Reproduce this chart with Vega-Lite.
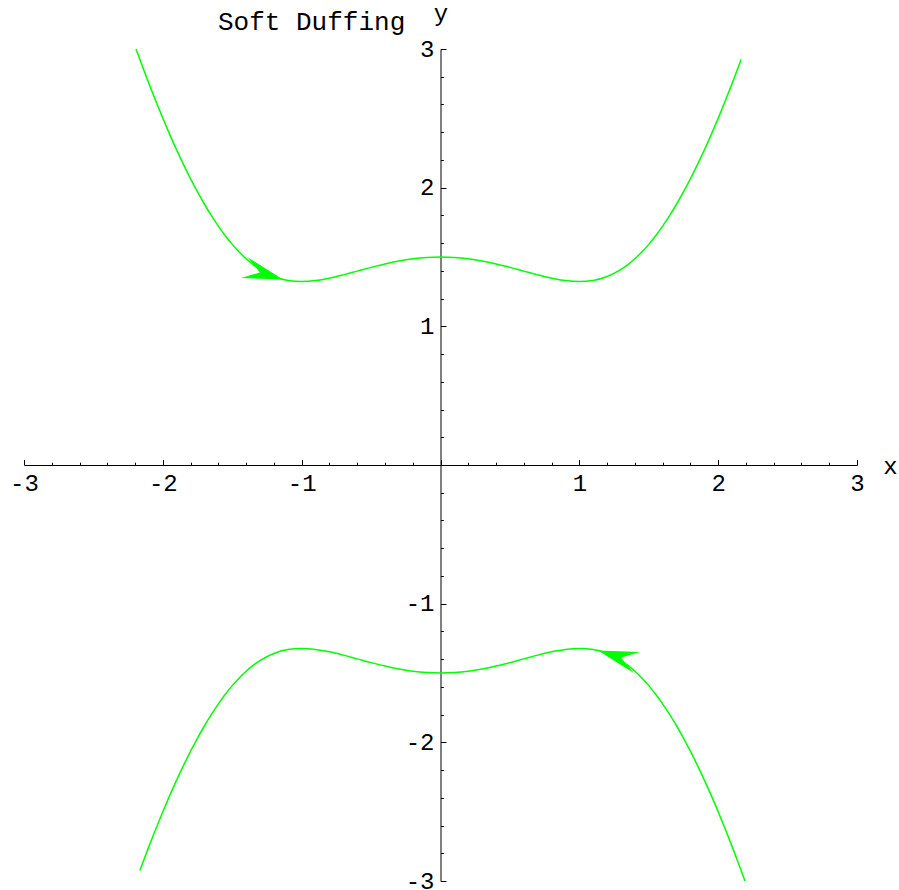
{
  "$schema": "https://vega.github.io/schema/vega-lite/v6.json",
  "width": 833,
  "height": 832,
  "autosize": "none",
  "padding": {"left": 24, "top": 49, "right": 42, "bottom": 9},
  "background": "white",
  "title": {
    "text": "Soft Duffing",
    "anchor": "start",
    "frame": "group",
    "dx": 194,
    "dy": 74,
    "offset": 19,
    "baseline": "alphabetic",
    "font": "Liberation Mono, Courier New, DejaVu Sans Mono, monospace",
    "fontSize": 26,
    "fontWeight": "normal",
    "color": "black"
  },
  "config": {
    "view": {"stroke": null},
    "font": "Liberation Mono, Courier New, DejaVu Sans Mono, monospace",
    "axis": {
      "grid": false,
      "domainColor": "black",
      "domainWidth": 1,
      "tickColor": "black",
      "tickWidth": 1,
      "labelColor": "black",
      "titleColor": "black"
    }
  },
  "datasets": {
    "orbit": [
      {"branch": "upper", "x": -2.193, "y": 3.0},
      {"branch": "upper", "x": -2.15, "y": 2.8829},
      {"branch": "upper", "x": -2.1, "y": 2.7503},
      {"branch": "upper", "x": -2.05, "y": 2.6226},
      {"branch": "upper", "x": -2.0, "y": 2.5},
      {"branch": "upper", "x": -1.95, "y": 2.3827},
      {"branch": "upper", "x": -1.9, "y": 2.2707},
      {"branch": "upper", "x": -1.85, "y": 2.1643},
      {"branch": "upper", "x": -1.8, "y": 2.0637},
      {"branch": "upper", "x": -1.75, "y": 1.969},
      {"branch": "upper", "x": -1.7, "y": 1.8804},
      {"branch": "upper", "x": -1.65, "y": 1.7982},
      {"branch": "upper", "x": -1.6, "y": 1.7224},
      {"branch": "upper", "x": -1.55, "y": 1.6533},
      {"branch": "upper", "x": -1.5, "y": 1.591},
      {"branch": "upper", "x": -1.45, "y": 1.5355},
      {"branch": "upper", "x": -1.4, "y": 1.4869},
      {"branch": "upper", "x": -1.35, "y": 1.4451},
      {"branch": "upper", "x": -1.3, "y": 1.41},
      {"branch": "upper", "x": -1.2, "y": 1.359},
      {"branch": "upper", "x": -1.1, "y": 1.3312},
      {"branch": "upper", "x": -1.0, "y": 1.3229},
      {"branch": "upper", "x": -0.9, "y": 1.3297},
      {"branch": "upper", "x": -0.8, "y": 1.3472},
      {"branch": "upper", "x": -0.7, "y": 1.3712},
      {"branch": "upper", "x": -0.6, "y": 1.3981},
      {"branch": "upper", "x": -0.5, "y": 1.4252},
      {"branch": "upper", "x": -0.4, "y": 1.4501},
      {"branch": "upper", "x": -0.3, "y": 1.4711},
      {"branch": "upper", "x": -0.2, "y": 1.4869},
      {"branch": "upper", "x": -0.1, "y": 1.4967},
      {"branch": "upper", "x": 0.0, "y": 1.5},
      {"branch": "upper", "x": 0.1, "y": 1.4967},
      {"branch": "upper", "x": 0.2, "y": 1.4869},
      {"branch": "upper", "x": 0.3, "y": 1.4711},
      {"branch": "upper", "x": 0.4, "y": 1.4501},
      {"branch": "upper", "x": 0.5, "y": 1.4252},
      {"branch": "upper", "x": 0.6, "y": 1.3981},
      {"branch": "upper", "x": 0.7, "y": 1.3712},
      {"branch": "upper", "x": 0.8, "y": 1.3472},
      {"branch": "upper", "x": 0.9, "y": 1.3297},
      {"branch": "upper", "x": 1.0, "y": 1.3229},
      {"branch": "upper", "x": 1.1, "y": 1.3312},
      {"branch": "upper", "x": 1.2, "y": 1.359},
      {"branch": "upper", "x": 1.3, "y": 1.41},
      {"branch": "upper", "x": 1.35, "y": 1.4451},
      {"branch": "upper", "x": 1.4, "y": 1.4869},
      {"branch": "upper", "x": 1.45, "y": 1.5355},
      {"branch": "upper", "x": 1.5, "y": 1.591},
      {"branch": "upper", "x": 1.55, "y": 1.6533},
      {"branch": "upper", "x": 1.6, "y": 1.7224},
      {"branch": "upper", "x": 1.65, "y": 1.7982},
      {"branch": "upper", "x": 1.7, "y": 1.8804},
      {"branch": "upper", "x": 1.75, "y": 1.969},
      {"branch": "upper", "x": 1.8, "y": 2.0637},
      {"branch": "upper", "x": 1.85, "y": 2.1643},
      {"branch": "upper", "x": 1.9, "y": 2.2707},
      {"branch": "upper", "x": 1.95, "y": 2.3827},
      {"branch": "upper", "x": 2.0, "y": 2.5},
      {"branch": "upper", "x": 2.05, "y": 2.6226},
      {"branch": "upper", "x": 2.1, "y": 2.7503},
      {"branch": "upper", "x": 2.15, "y": 2.8829},
      {"branch": "upper", "x": 2.165, "y": 2.9237},
      {"branch": "lower", "x": -2.165, "y": -2.9237},
      {"branch": "lower", "x": -2.15, "y": -2.8829},
      {"branch": "lower", "x": -2.1, "y": -2.7503},
      {"branch": "lower", "x": -2.05, "y": -2.6226},
      {"branch": "lower", "x": -2.0, "y": -2.5},
      {"branch": "lower", "x": -1.95, "y": -2.3827},
      {"branch": "lower", "x": -1.9, "y": -2.2707},
      {"branch": "lower", "x": -1.85, "y": -2.1643},
      {"branch": "lower", "x": -1.8, "y": -2.0637},
      {"branch": "lower", "x": -1.75, "y": -1.969},
      {"branch": "lower", "x": -1.7, "y": -1.8804},
      {"branch": "lower", "x": -1.65, "y": -1.7982},
      {"branch": "lower", "x": -1.6, "y": -1.7224},
      {"branch": "lower", "x": -1.55, "y": -1.6533},
      {"branch": "lower", "x": -1.5, "y": -1.591},
      {"branch": "lower", "x": -1.45, "y": -1.5355},
      {"branch": "lower", "x": -1.4, "y": -1.4869},
      {"branch": "lower", "x": -1.35, "y": -1.4451},
      {"branch": "lower", "x": -1.3, "y": -1.41},
      {"branch": "lower", "x": -1.2, "y": -1.359},
      {"branch": "lower", "x": -1.1, "y": -1.3312},
      {"branch": "lower", "x": -1.0, "y": -1.3229},
      {"branch": "lower", "x": -0.9, "y": -1.3297},
      {"branch": "lower", "x": -0.8, "y": -1.3472},
      {"branch": "lower", "x": -0.7, "y": -1.3712},
      {"branch": "lower", "x": -0.6, "y": -1.3981},
      {"branch": "lower", "x": -0.5, "y": -1.4252},
      {"branch": "lower", "x": -0.4, "y": -1.4501},
      {"branch": "lower", "x": -0.3, "y": -1.4711},
      {"branch": "lower", "x": -0.2, "y": -1.4869},
      {"branch": "lower", "x": -0.1, "y": -1.4967},
      {"branch": "lower", "x": 0.0, "y": -1.5},
      {"branch": "lower", "x": 0.1, "y": -1.4967},
      {"branch": "lower", "x": 0.2, "y": -1.4869},
      {"branch": "lower", "x": 0.3, "y": -1.4711},
      {"branch": "lower", "x": 0.4, "y": -1.4501},
      {"branch": "lower", "x": 0.5, "y": -1.4252},
      {"branch": "lower", "x": 0.6, "y": -1.3981},
      {"branch": "lower", "x": 0.7, "y": -1.3712},
      {"branch": "lower", "x": 0.8, "y": -1.3472},
      {"branch": "lower", "x": 0.9, "y": -1.3297},
      {"branch": "lower", "x": 1.0, "y": -1.3229},
      {"branch": "lower", "x": 1.1, "y": -1.3312},
      {"branch": "lower", "x": 1.2, "y": -1.359},
      {"branch": "lower", "x": 1.3, "y": -1.41},
      {"branch": "lower", "x": 1.35, "y": -1.4451},
      {"branch": "lower", "x": 1.4, "y": -1.4869},
      {"branch": "lower", "x": 1.45, "y": -1.5355},
      {"branch": "lower", "x": 1.5, "y": -1.591},
      {"branch": "lower", "x": 1.55, "y": -1.6533},
      {"branch": "lower", "x": 1.6, "y": -1.7224},
      {"branch": "lower", "x": 1.65, "y": -1.7982},
      {"branch": "lower", "x": 1.7, "y": -1.8804},
      {"branch": "lower", "x": 1.75, "y": -1.969},
      {"branch": "lower", "x": 1.8, "y": -2.0637},
      {"branch": "lower", "x": 1.85, "y": -2.1643},
      {"branch": "lower", "x": 1.9, "y": -2.2707},
      {"branch": "lower", "x": 1.95, "y": -2.3827},
      {"branch": "lower", "x": 2.0, "y": -2.5},
      {"branch": "lower", "x": 2.05, "y": -2.6226},
      {"branch": "lower", "x": 2.1, "y": -2.7503},
      {"branch": "lower", "x": 2.15, "y": -2.8829},
      {"branch": "lower", "x": 2.193, "y": -3.0}
    ],
    "arrows": [
      {"branch": "upper", "x": -1.135, "y": 1.3385},
      {"branch": "lower", "x": 1.135, "y": -1.3385}
    ]
  },
  "layer": [
    {
      "data": {"name": "orbit"},
      "mark": {"type": "line", "color": "#00ff00", "strokeWidth": 1.5, "interpolate": "monotone"},
      "encoding": {
        "x": {
          "field": "x",
          "type": "quantitative",
          "scale": {"domain": [-3, 3], "nice": false, "zero": false},
          "axis": {
            "orient": "bottom",
            "offset": -416,
            "values": [-3, -2.8, -2.6, -2.4, -2.2, -2, -1.8, -1.6, -1.4, -1.2, -1, -0.8, -0.6, -0.4, -0.2, 0, 0.2, 0.4, 0.6, 0.8, 1, 1.2, 1.4, 1.6, 1.8, 2, 2.2, 2.4, 2.6, 2.8, 3],
            "tickCount": 100,
            "labelExpr": "abs(datum.value - round(datum.value)) < 0.001 && datum.value != 0 ? (datum.value < 0 ? '-' : '') + abs(round(datum.value)) : ''",
            "labelOverlap": false,
            "labelFlush": false,
            "labelBound": false,
            "labelFont": "Liberation Mono, Courier New, DejaVu Sans Mono, monospace",
            "labelFontSize": 24,
            "tickSize": {"condition": {"test": "abs(datum.value - round(datum.value)) < 0.001", "value": -5.5}, "value": -2.8},
            "labelPadding": 12,
            "title": "x",
            "titleFont": "Liberation Mono, Courier New, DejaVu Sans Mono, monospace",
            "titleFontSize": 24,
            "titleFontWeight": "normal",
            "titleAngle": 0,
            "titleAlign": "center",
            "titleBaseline": "alphabetic",
            "titleX": 866,
            "titleY": 8
          }
        },
        "y": {
          "field": "y",
          "type": "quantitative",
          "scale": {"domain": [-3, 3], "nice": false, "zero": false},
          "axis": {
            "orient": "left",
            "offset": -416.5,
            "values": [-3, -2.8, -2.6, -2.4, -2.2, -2, -1.8, -1.6, -1.4, -1.2, -1, -0.8, -0.6, -0.4, -0.2, 0, 0.2, 0.4, 0.6, 0.8, 1, 1.2, 1.4, 1.6, 1.8, 2, 2.2, 2.4, 2.6, 2.8, 3],
            "tickCount": 100,
            "labelExpr": "abs(datum.value - round(datum.value)) < 0.001 && datum.value != 0 ? (datum.value < 0 ? '-' : '') + abs(round(datum.value)) : ''",
            "labelOverlap": false,
            "labelFlush": false,
            "labelBound": false,
            "labelFont": "Liberation Mono, Courier New, DejaVu Sans Mono, monospace",
            "labelFontSize": 24,
            "tickSize": {"condition": {"test": "abs(datum.value - round(datum.value)) < 0.001", "value": -5.5}, "value": -2.8},
            "labelPadding": 12,
            "title": "y",
            "titleFont": "Liberation Mono, Courier New, DejaVu Sans Mono, monospace",
            "titleFontSize": 24,
            "titleFontWeight": "normal",
            "titleAngle": 0,
            "titleAlign": "center",
            "titleBaseline": "alphabetic",
            "titleX": 0,
            "titleY": -29
          }
        },
        "detail": {"field": "branch", "type": "nominal"}
      }
    },
    {
      "data": {"name": "arrows"},
      "mark": {
        "type": "point",
        "shape": "M0,0L-2.03,-0.55L-1.2,0L-2.03,0.55Z",
        "filled": true,
        "color": "#00ff00",
        "opacity": 1,
        "size": 1600,
        "strokeWidth": 0
      },
      "encoding": {
        "x": {"field": "x", "type": "quantitative"},
        "y": {"field": "y", "type": "quantitative"},
        "angle": {"condition": {"test": "datum.branch === 'upper'", "value": 17}, "value": 197}
      }
    }
  ]
}
